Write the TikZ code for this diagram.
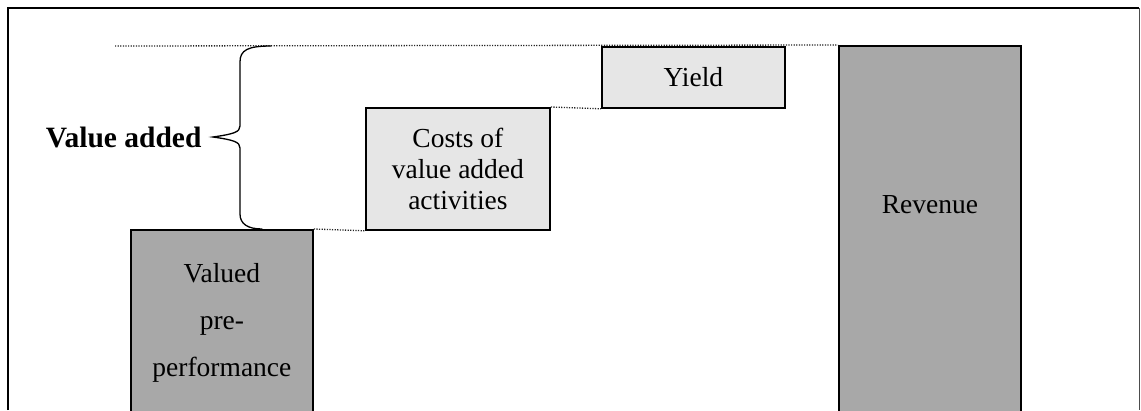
\documentclass[tikz,border=0pt]{standalone}
\usepackage{fontspec}
\setmainfont{Liberation Serif}
\definecolor{darkfill}{HTML}{A8A8A8}
\definecolor{lightfill}{HTML}{E6E6E6}
\begin{document}
\begin{tikzpicture}[x=1pt,y=-1pt,
  bar/.style={draw=black, line width=1.8pt, rectangle, inner sep=0pt,
    anchor=north west, align=center,
    font=\fontsize{27.5}{31}\selectfont},
  darkbar/.style={bar, fill=darkfill},
  lightbar/.style={bar, fill=lightfill},
  guide/.style={line width=1.3pt, dash pattern=on 1.2pt off 1.4pt, black!85}]
\useasboundingbox (0,0) rectangle (1141,410);
\clip (0,0) rectangle (1141,410);
\fill[white] (0,0) rectangle (1141,410);

% outer frame (open at the bottom)
\draw[line width=1.6pt] (8,410) -- (8,8) -- (1139,8);
\draw[line width=0.9pt, black!70] (1139,8) -- (1139,410);

% bars
\node[darkbar, minimum width=182, minimum height=186] (valued) at (130,229)
  {Valued\\[16pt]pre-\\[16pt]performance};
\node[lightbar, minimum width=184, minimum height=122] (costs) at (365,107)
  {Costs of\\value added\\activities};
\node[lightbar, minimum width=183, minimum height=61] (yield) at (601,46)
  {Yield};
\node[darkbar, minimum width=182, minimum height=372,
  label={[font=\fontsize{27.5}{31}\selectfont, yshift=27pt]center:Revenue}]
  (revenue) at (838,45) {};

% dotted level guides
\coordinate (top) at (115,46);
\draw[guide] (top) -- (revenue.north west);
\draw[guide] (costs.north east) -- (yield.south west);
\draw[guide] (valued.north east) -- (costs.south west);

% brace spanning the value added
\draw[line width=1.3pt, line cap=round]
  (271,46) .. controls (248,46) and (240,50) .. (240,62)
  -- (240,126) .. controls (240,132) and (234,134) .. (213,137)
  .. controls (234,140) and (240,142) .. (240,148)
  -- (240,214) .. controls (240,224) and (248,229) .. (262,229);

\node[anchor=east, font=\fontsize{29.5}{34}\selectfont\bfseries] (va) at (205,137)
  {Value added};
\end{tikzpicture}
\end{document}
